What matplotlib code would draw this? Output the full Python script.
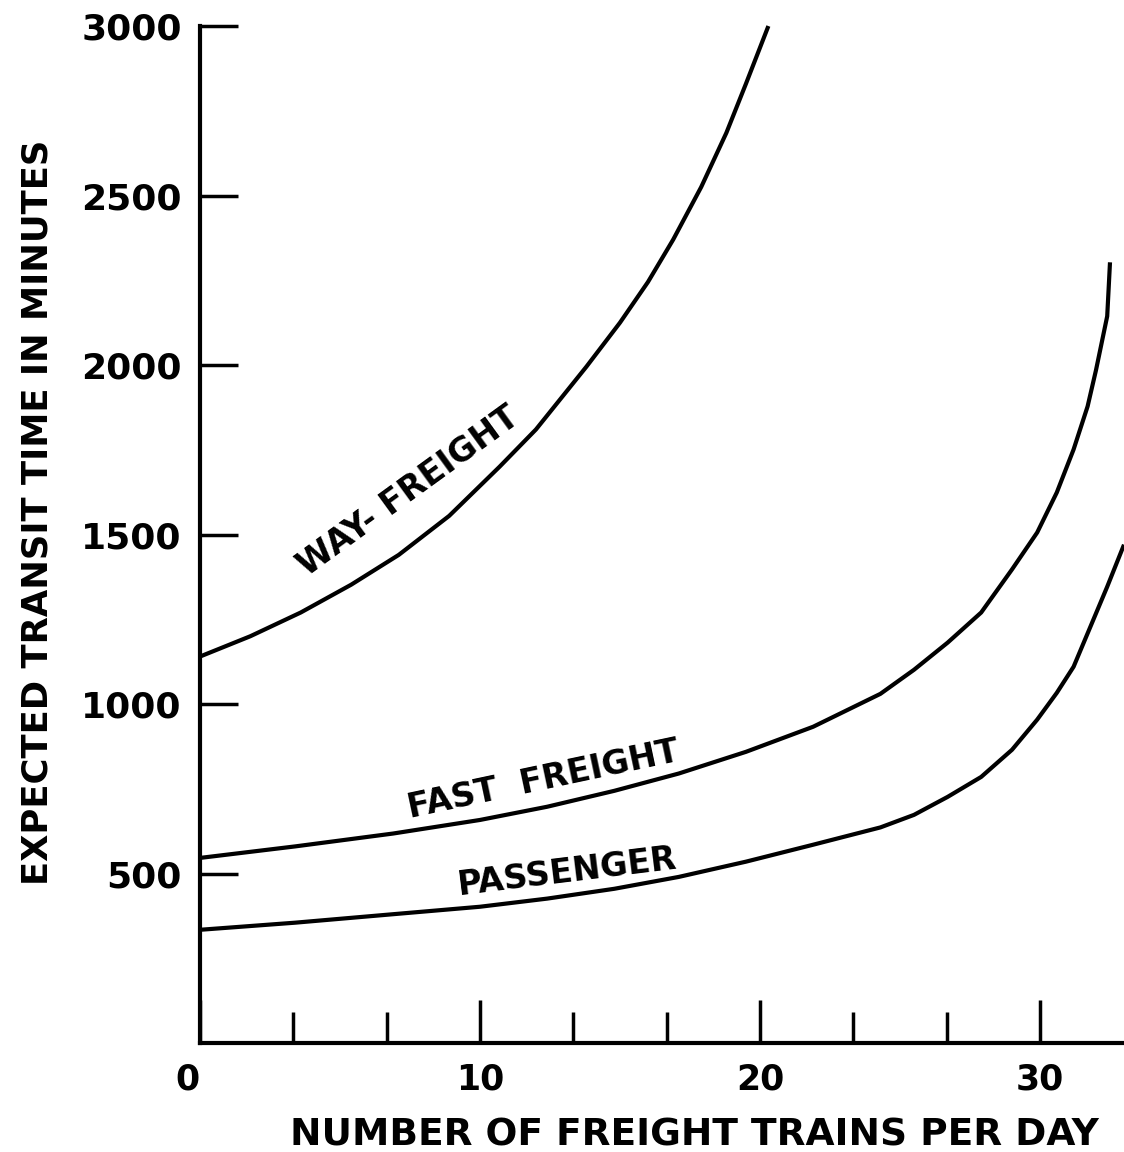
import matplotlib
matplotlib.use('Agg')
import matplotlib.pyplot as plt

# values
way_x = [0, 1.8, 3.6, 5.4, 7.1, 8.9, 10.7, 12.0, 13.8, 15.0, 16.0, 16.9, 17.9, 18.8, 19.5, 20.3]
way_y = [1140, 1200, 1270, 1352, 1440, 1555, 1700, 1810, 1995, 2125, 2245, 2370, 2525, 2685, 2830, 3000]

fast_x = [0, 3.4, 6.9, 10.0, 12.4, 14.8, 17.1, 19.5, 21.9, 24.3, 25.5, 26.7, 27.9, 29.0,
          29.9, 30.6, 31.2, 31.7, 32.0, 32.4, 32.45, 32.5]
fast_y = [546, 580, 618, 658, 697, 744, 795, 859, 933, 1030, 1101, 1181, 1270, 1397,
          1506, 1624, 1751, 1878, 1985, 2144, 2223, 2303]

pass_x = [0, 3.4, 6.9, 10.0, 12.4, 14.8, 17.1, 19.5, 21.9, 24.3, 25.5, 26.7, 27.9, 29.0,
          29.9, 30.6, 31.2, 31.8, 32.4, 33.0]
pass_y = [334, 355, 380, 402, 426, 455, 490, 535, 585, 636, 673, 726, 785, 865,
          954, 1033, 1110, 1228, 1346, 1470]

x_major = [0, 10, 20, 30]
x_minor = [10 / 3, 20 / 3, 40 / 3, 50 / 3, 70 / 3, 80 / 3]
y_ticks = [500, 1000, 1500, 2000, 2500, 3000]

plt.rcParams['font.family'] = ['DejaVu Sans']
plt.rcParams['font.weight'] = 'bold'

fig = plt.figure(figsize=(11.24, 11.52), dpi=100)
ax = fig.add_axes([0.1779, 0.0946, 1 - 0.1779, 0.9774 - 0.0946])

for xs, ys in [(way_x, way_y), (fast_x, fast_y), (pass_x, pass_y)]:
    ax.plot(xs, ys, color='black', lw=3.0, solid_joinstyle='round',
            solid_capstyle='butt', clip_on=False)

ax.set_xlim(0, 33)
ax.set_ylim(0, 3000)

for s in ['top', 'right']:
    ax.spines[s].set_visible(False)
for s in ['left', 'bottom']:
    ax.spines[s].set_linewidth(3)

ax.set_xticks(x_major)
ax.set_xticklabels([str(v) for v in x_major])
ax.set_xticks(x_minor, minor=True)
ax.set_yticks(y_ticks)
ax.set_yticklabels([str(v) for v in y_ticks])

ax.tick_params(axis='x', which='major', direction='in', length=31, width=2.5, pad=14, labelsize=25)
ax.tick_params(axis='x', which='minor', direction='in', length=22, width=2.5)
ax.tick_params(axis='y', which='major', direction='in', length=27, width=2.5, pad=13, labelsize=26)

# the "0" sits just left of the corner
ax.xaxis.get_major_ticks()[0].label1.set_horizontalalignment('right')

# curve labels
ax.text(7.46, 1627, 'WAY- FREIGHT', rotation=36, rotation_mode='anchor',
        ha='center', va='center', fontsize=24, fontweight='bold')
ax.text(12.25, 776, 'FAST  FREIGHT', rotation=12, rotation_mode='anchor',
        ha='center', va='center', fontsize=24, fontweight='bold')
ax.text(13.1, 505, 'PASSENGER', rotation=7, rotation_mode='anchor',
        ha='center', va='center', fontsize=24, fontweight='bold')

fig.text(38 / 1124, 1 - 512 / 1152, 'EXPECTED TRANSIT TIME IN MINUTES', rotation=90,
         ha='center', va='center', fontsize=25.5, fontweight='bold')
fig.text(290 / 1124, 1 - 1135 / 1152, 'NUMBER OF FREIGHT TRAINS PER DAY',
         ha='left', va='center', fontsize=27, fontweight='bold')

fig.savefig('out.png', dpi=100)
